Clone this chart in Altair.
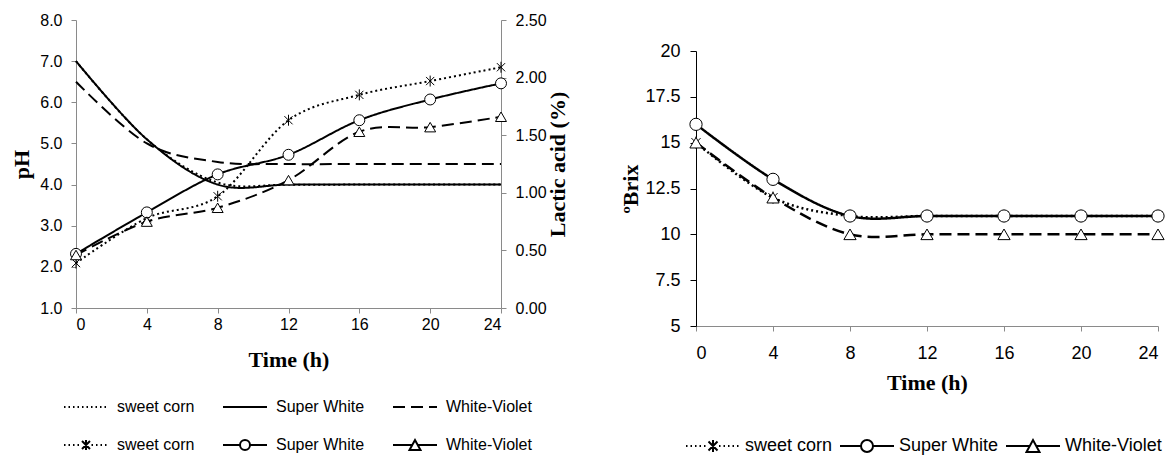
import altair as alt
import pandas as pd

# ---------------- data ----------------
hours = [0, 4, 8, 12, 16, 20, 24]
varieties = ["sweet corn", "Super White", "White-Violet"]

ph_sweet_corn = [7.0, 5.1, 4.05, 4.0, 4.0, 4.0, 4.0]
ph_super_white = [7.0, 5.1, 4.0, 4.0, 4.0, 4.0, 4.0]
ph_white_violet = [6.5, 5.0, 4.55, 4.5, 4.5, 4.5, 4.5]

lactic_sweet_corn = [0.39, 0.78, 0.97, 1.63, 1.85, 1.97, 2.09]
lactic_super_white = [0.47, 0.83, 1.16, 1.33, 1.63, 1.81, 1.95]
lactic_white_violet = [0.46, 0.75, 0.87, 1.11, 1.53, 1.57, 1.66]

brix_sweet_corn = [15, 12, 11, 11, 11, 11, 11]
brix_super_white = [16, 13, 11, 11, 11, 11, 11]
brix_white_violet = [15, 12, 10, 10, 10, 10, 10]

ph_ticks = [1, 2, 3, 4, 5, 6, 7, 8]
lactic_ticks = [0, 0.5, 1.0, 1.5, 2.0, 2.5]
brix_ticks = [5, 7.5, 10, 12.5, 15, 17.5, 20]


def long(series):
    rows = []
    for v, vals in zip(varieties, series):
        for t, y in zip(hours, vals):
            rows.append({"t": t, "variety": v, "value": y})
    return pd.DataFrame(rows)


df_ph = long([ph_sweet_corn, ph_super_white, ph_white_violet])
df_la = long([lactic_sweet_corn, lactic_super_white, lactic_white_violet])
df_bx = long([brix_sweet_corn, brix_super_white, brix_white_violet])

# ---------------- styles ----------------
GREY = "#8a8a8a"
SANS = "Liberation Sans"
SERIF = "Liberation Serif"
dash_range = [[2, 3], [1, 0], [12, 6]]
asterisk = "M-0.75,-0.75L0.75,0.75M-0.75,0.75L0.75,-0.75M0,-1L0,1"
marker_range = [asterisk, "circle", "triangle-up"]


# legend glyph helpers (symbol unit = 10 px)
def f(v):
    return f"{v:.3f}"


def seg(x0, x1):
    return f"M{f(x0)},0L{f(x1)},0"


def dots(x0, x1, step=0.45, ln=0.15):
    out, x = "", x0
    while x + ln <= x1 + 1e-9:
        out += seg(x, x + ln)
        x += step
    return out


def dashes(x0, x1, d=1.2, g=0.6):
    out, x = "", x0
    while x < x1 - 1e-9:
        out += seg(x, min(x + d, x1))
        x += d + g
    return out


def circ(cx, r):
    return f"M{f(cx - r)},0A{f(r)},{f(r)} 0 1,0 {f(cx + r)},0A{f(r)},{f(r)} 0 1,0 {f(cx - r)},0Z"


def tri(cx, w, h):
    return f"M{f(cx - w / 2)},{f(h / 2)}L{f(cx)},{f(-h / 2)}L{f(cx + w / 2)},{f(h / 2)}Z"


def star(cx, a, v):
    return (f"M{f(cx - a)},{f(-a)}L{f(cx + a)},{f(a)}M{f(cx - a)},{f(a)}L{f(cx + a)},{f(-a)}"
            f"M{f(cx)},{f(-v)}L{f(cx)},{f(v)}")


def marker_paths(x0, x1, r, tw, th, sa, sv):
    c = (x0 + x1) / 2
    return [
        dots(x0, c - sa - 0.15) + dots(c + sa + 0.15, x1) + star(c, sa, sv),
        seg(x0, c - r) + seg(c + r, x1) + circ(c, r),
        seg(x0, c - tw / 4) + seg(c + tw / 4, x1) + tri(c, tw, th),
    ]


left_row1_paths = [dots(-3.4, 1.0), seg(-3.4, 1.0), dashes(-3.4, 1.0)]
left_row2_paths = marker_paths(-3.4, 1.0, 0.5, 1.1, 1.0, 0.4, 0.5)
right_paths = marker_paths(-4.4, 1.0, 0.6, 1.3, 1.2, 0.45, 0.6)


def legend(x, y, fsize, off, colpad):
    return alt.Legend(orient="none", legendX=x, legendY=y, direction="horizontal", title=None,
                      symbolSize=400, symbolStrokeWidth=2, symbolStrokeColor="black",
                      labelFontSize=fsize, labelFont=SANS, labelColor="black", labelOffset=off,
                      columnPadding=colpad, gridAlign="none")


def legend_layer(df, paths, leg):
    return alt.Chart(df).transform_filter("datum.t < 0").mark_point(
        filled=False, color="black", strokeWidth=2, opacity=1).encode(
        shape=alt.Shape("variety:N", scale=alt.Scale(domain=varieties, range=paths), legend=leg))


dash_scale = alt.Scale(domain=varieties, range=dash_range)

# ---------------- left chart ----------------
x_enc = alt.X(
    "t:Q",
    scale=alt.Scale(domain=[0, 24], nice=False, zero=False),
    axis=alt.Axis(values=hours, title="Time (h)", grid=False, domainColor=GREY, tickColor=GREY,
                  tickSize=5, labelFontSize=16, labelPadding=3, titleFontSize=22, titlePadding=17),
)

ph_lines = alt.Chart(df_ph).mark_line(interpolate="cardinal", color="black", strokeWidth=2).encode(
    x=x_enc,
    y=alt.Y("value:Q", scale=alt.Scale(domain=[1, 8], nice=False, zero=False),
            axis=alt.Axis(values=ph_ticks, format=".1f", title="pH", grid=False, domainColor=GREY,
                          tickColor=GREY, tickSize=5, labelFontSize=16, labelPadding=9,
                          titleFontSize=22, titlePadding=6)),
    strokeDash=alt.StrokeDash("variety:N", scale=dash_scale, legend=None),
)

la_lines = alt.Chart(df_la).mark_line(interpolate="cardinal", color="black", strokeWidth=2).encode(
    x=x_enc,
    y=alt.Y("value:Q", scale=alt.Scale(domain=[0, 2.5], nice=False, zero=False),
            axis=alt.Axis(values=lactic_ticks, format=".2f", title="Lactic acid (%)", orient="right",
                          grid=False, domainColor=GREY, tickColor=GREY, tickSize=5, labelFontSize=16,
                          labelPadding=9, titleFontSize=22, titlePadding=1, titleAngle=270,
                          titleBaseline="top")),
    strokeDash=alt.StrokeDash("variety:N", scale=dash_scale, legend=None),
)

la_points = alt.Chart(df_la).mark_point(filled=True, fill="white", stroke="black", strokeWidth=1,
                                        size=120, opacity=1).encode(
    x=x_enc,
    y=alt.Y("value:Q", scale=alt.Scale(domain=[0, 2.5], nice=False, zero=False), axis=None),
    shape=alt.Shape("variety:N", scale=alt.Scale(domain=varieties, range=marker_range), legend=None),
)

left_leg1 = legend_layer(df_la, left_row1_paths, legend(11, 376, 16, 8, 24))
left_leg2 = legend_layer(df_la, left_row2_paths, legend(11, 414, 16, 8, 24))

left = alt.layer(ph_lines, la_lines, la_points, left_leg1, left_leg2).resolve_scale(
    y="independent", shape="independent").properties(width=425, height=288)

# ---------------- right chart ----------------
x_enc_r = alt.X(
    "t:Q",
    scale=alt.Scale(domain=[0, 24], nice=False, zero=False),
    axis=alt.Axis(values=hours, title="Time (h)", grid=False, domainColor=GREY, tickColor=GREY,
                  tickSize=5, labelFontSize=18, labelPadding=13, titleFontSize=22, titlePadding=10),
)
y_enc_r = alt.Y("value:Q", scale=alt.Scale(domain=[5, 20], nice=False, zero=False),
                axis=alt.Axis(values=brix_ticks, format=".1~f", title="ºBrix", grid=False,
                              domainColor="black", tickColor="black", tickSize=6, labelFontSize=18,
                              labelPadding=10, titleFontSize=22, titlePadding=2))

bx_lines = alt.Chart(df_bx).mark_line(interpolate="cardinal", color="black", strokeWidth=2.5).encode(
    x=x_enc_r, y=y_enc_r,
    strokeDash=alt.StrokeDash("variety:N", scale=dash_scale, legend=None),
)
bx_points = alt.Chart(df_bx).mark_point(filled=True, fill="white", stroke="black", strokeWidth=1,
                                        size=150, opacity=1).encode(
    x=x_enc_r, y=y_enc_r,
    shape=alt.Shape("variety:N", scale=alt.Scale(domain=varieties, range=marker_range), legend=None),
)
right_leg = legend_layer(df_bx, right_paths, legend(23, 384, 18, 4, 3))

right = alt.layer(bx_lines, bx_points, right_leg).resolve_scale(shape="independent").properties(
    width=462, height=275)

spacer = alt.Chart(pd.DataFrame({"t": [0]})).mark_point(opacity=0, size=1).properties(width=10, height=22)
right_col = alt.vconcat(spacer, right, spacing=0)

chart = alt.hconcat(left, right_col, spacing=50).properties(
    padding={"left": 2, "top": 4, "right": 0, "bottom": 0}
).configure_view(stroke=None).configure_axis(
    labelFont=SANS, labelColor="black", titleFont=SERIF, titleFontWeight="bold", titleColor="black",
)

chart.save("out.html", embed_options={"renderer": "svg", "actions": False})
